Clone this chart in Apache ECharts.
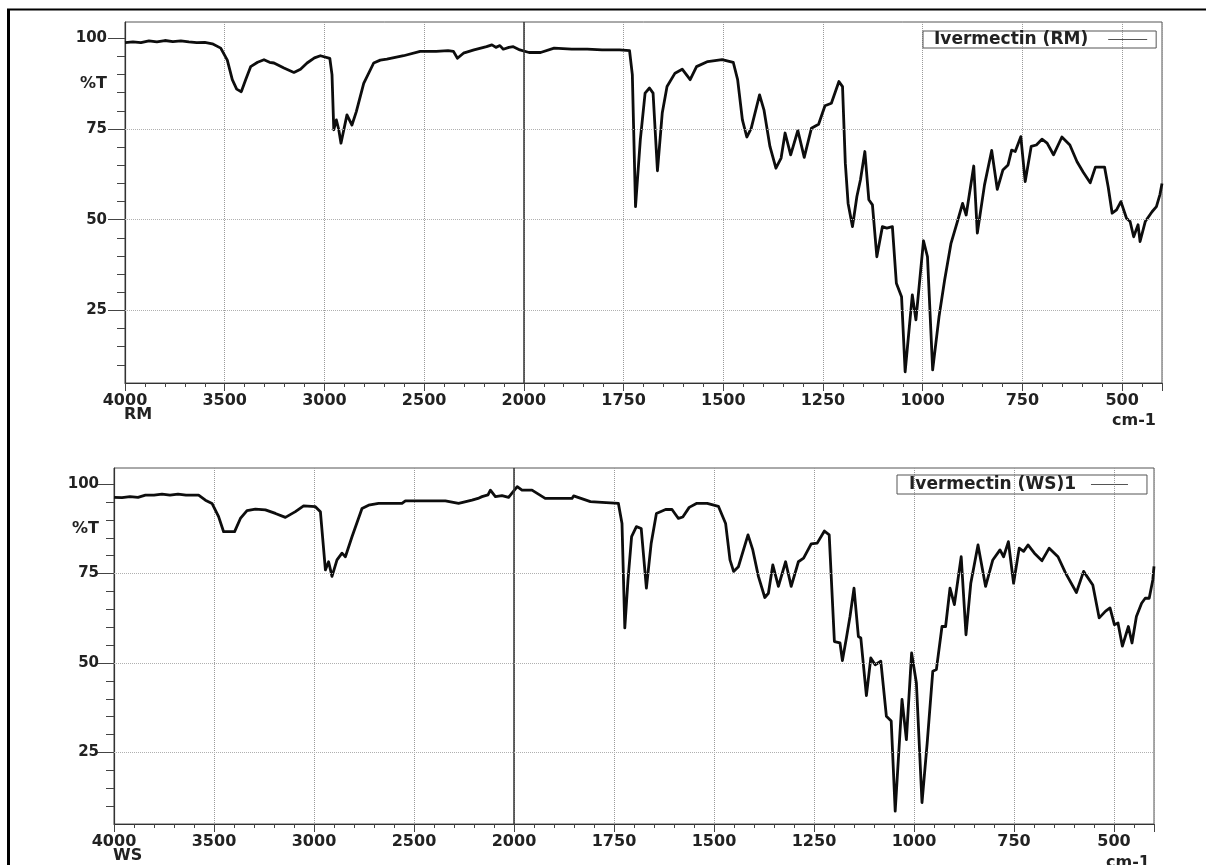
<!DOCTYPE html>
<html><head><meta charset="utf-8">
<script src="https://cdn.jsdelivr.net/npm/echarts@6/dist/echarts.min.js"></script>
<style>html,body{margin:0;padding:0;background:#fff}#c{width:1206px;height:865px}</style>
</head><body><div id="c"></div>
<script>
// ---- data (wavenumber cm-1, %T) ----
const rmWave = [4000,3960,3920,3880,3840,3800,3760,3720,3680,3640,3600,3562,3520,3487,3462,3440,3417,3395,3370,3335,3303,3275,3253,3203,3153,3120,3087,3050,3020,2973,2962,2953,2940,2928,2917,2887,2862,2840,2803,2753,2720,2687,2603,2520,2440,2380,2353,2333,2303,2250,2187,2160,2140,2120,2103,2075,2053,2020,1987,1958,1924,1880,1841,1804,1760,1735,1728,1720,1708,1696,1685,1676,1665,1653,1641,1621,1603,1583,1567,1539,1503,1475,1464,1452,1441,1430,1409,1398,1383,1368,1355,1345,1331,1313,1297,1279,1261,1245,1229,1210,1201,1194,1187,1176,1165,1156,1145,1135,1126,1115,1101,1090,1076,1066,1053,1044,1026,1017,998,988,975,959,945,929,913,900,891,872,863,845,827,813,799,786,777,768,754,743,728,715,701,688,672,651,631,613,597,580,567,544,535,525,514,503,489,480,471,460,455,442,425,414,405,400];
const rmT = [98.8,99.0,98.8,99.3,99.0,99.4,99.1,99.3,99.0,98.8,98.9,98.5,97.3,94.0,88.6,86.0,85.3,88.6,92.2,93.4,94.1,93.4,93.2,91.8,90.6,91.5,93.2,94.6,95.2,94.5,90.0,74.8,77.5,74.8,71.1,78.9,76.1,79.8,87.6,93.2,94.0,94.3,95.2,96.4,96.4,96.6,96.4,94.5,95.9,96.8,97.7,98.2,97.5,98.0,97.0,97.5,97.7,96.8,96.1,96.1,97.3,97.0,97.0,96.8,96.8,96.6,90.0,53.6,72.0,84.9,86.3,84.9,63.5,79.4,86.7,90.4,91.5,88.6,92.2,93.6,94.1,93.4,88.6,77.5,72.8,75.2,84.4,80.3,70.2,64.2,67.0,73.9,67.9,74.6,67.2,75.2,76.3,81.4,82.1,88.1,86.7,65.6,54.5,48.1,56.4,61.0,68.8,55.5,54.1,39.8,48.1,47.7,48.1,32.5,28.8,8.1,29.3,22.4,44.2,39.8,8.6,23.3,33.4,43.5,49.5,54.5,51.3,64.8,46.3,59.6,69.1,58.4,63.7,65.1,69.2,68.8,72.9,60.5,70.2,70.6,72.2,71.1,67.9,72.8,70.6,66.0,63.0,60.2,64.5,64.5,59.1,51.8,52.7,55.0,50.4,49.5,45.3,48.6,44.0,49.5,52.2,53.6,57.0,60.0];

const wsWave = [4000,3960,3920,3880,3843,3800,3760,3720,3680,3640,3577,3543,3510,3477,3452,3397,3368,3335,3293,3243,3193,3143,3093,3052,2993,2968,2943,2927,2910,2885,2860,2843,2810,2760,2727,2677,2560,2543,2400,2343,2277,2210,2180,2160,2130,2118,2093,2060,2027,1992,1980,1955,1922,1855,1851,1809,1780,1739,1730,1723,1715,1706,1694,1682,1669,1657,1644,1621,1605,1589,1578,1562,1544,1517,1489,1471,1460,1451,1439,1415,1403,1389,1373,1364,1353,1339,1321,1307,1289,1276,1257,1242,1224,1212,1199,1185,1179,1169,1160,1150,1139,1133,1119,1108,1097,1083,1069,1057,1047,1030,1019,1006,994,980,967,953,944,930,921,910,899,882,870,858,840,821,803,785,776,764,751,737,726,715,699,680,662,640,621,594,576,553,537,521,510,499,490,479,464,455,444,431,422,412,403,400];
const wsT = [96.3,96.2,96.5,96.3,96.9,96.9,97.2,96.9,97.2,96.9,96.9,95.5,94.6,90.9,86.7,86.7,90.4,92.6,93.0,92.8,91.8,90.7,92.3,93.9,93.7,92.3,76.0,78.3,74.2,78.8,80.7,79.7,85.3,93.2,94.1,94.6,94.6,95.3,95.3,95.3,94.6,95.5,96.0,96.5,97.0,98.3,96.5,96.8,96.3,99.3,98.3,98.3,96.0,96.0,96.7,95.1,94.9,94.6,89.0,59.8,73.2,85.3,88.1,87.6,70.9,83.5,91.8,92.9,92.9,90.4,90.8,93.5,94.6,94.6,93.8,89.0,78.8,75.6,76.9,85.8,81.6,74.2,68.3,69.5,77.4,71.4,78.3,71.4,78.3,79.3,83.3,83.5,86.9,85.8,56.0,55.6,50.7,57.0,63.0,70.9,57.4,57.0,40.9,51.4,49.5,50.5,35.1,33.8,8.6,39.8,28.6,52.8,44.4,11.0,27.7,47.7,48.2,60.2,60.2,70.9,66.3,79.7,57.9,72.3,83.0,71.4,78.8,81.6,79.7,83.9,72.3,82.1,81.2,83.0,80.7,78.6,82.1,79.7,75.1,69.7,75.6,71.8,62.6,64.5,65.4,60.7,61.2,54.7,60.2,55.6,63.0,66.7,68.1,68.1,73.2,77.0];

const xTickLabels = [4000,3500,3000,2500,2000,1750,1500,1250,1000,750,500];
const yTickLabels = [25,50,75,100];
const yMinorTicks = [10,15,20,30,35,40,45,55,60,65,70,80,85,90,95];
const yGridValues = [25,50,75];
const seriesNames = ['Ivermectin (RM)', 'Ivermectin (WS)1'];
const sampleTags = ['RM', 'WS'];

// Spectrometer axis: linear 4000-2000, doubled scale (x2) below 2000 cm-1
const BREAK = 2000;
function toU(w){ return w >= BREAK ? 4000 - w : BREAK + 2 * (BREAK - w); }
function fromU(u){ return u <= BREAK ? 4000 - u : BREAK - (u - BREAK) / 2; }

const FONT = 'DejaVu Sans';
const chart = echarts.init(document.getElementById('c'), null, {renderer:'canvas'});

const grids = [
  {left:125, top:22, width:1037, height:361},
  {left:114, top:468, width:1040, height:356}
];
const yMargins = [18, 15];

function makeX(gi){
  return {
    type:'value', gridIndex:gi, min:0, max:toU(400), interval:500,
    axisLine:{show:true, onZero:false, lineStyle:{color:'#333', width:1.2}},
    axisTick:{show:true, length:8, lineStyle:{color:'#444', width:1}},
    minorTick:{show:true, splitNumber:5, length:4, lineStyle:{color:'#444', width:1}},
    axisLabel:{margin:10, fontFamily:FONT, fontWeight:'bold', fontSize:16, color:'#222',
      showMinLabel:true, showMaxLabel:false,
      formatter:v => { const w = Math.round(fromU(v)); return xTickLabels.includes(w) ? String(w) : ''; }},
    splitLine:{show:true, lineStyle:{color:'#9a9a9a', type:'dotted', width:1}},
    minorSplitLine:{show:false}
  };
}
function makeYA(gi){
  return {
    type:'value', gridIndex:gi, min:5, max:104.5, interval:5, position:'left',
    axisLine:{show:true, onZero:false, lineStyle:{color:'#333', width:1.2}},
    axisTick:{show:true, length:8, customValues:yMinorTicks, lineStyle:{color:'#444', width:1}},
    axisLabel:{margin:yMargins[gi], fontFamily:FONT, fontWeight:'bold', fontSize:15, color:'#222',
      customValues:yTickLabels, formatter:v => String(v)},
    splitLine:{show:false}
  };
}
function makeYB(gi){
  return {
    type:'value', gridIndex:gi, min:5, max:104.5, position:'left',
    axisLine:{show:false},
    axisTick:{show:true, length:17, customValues:yTickLabels, lineStyle:{color:'#444', width:1}},
    axisLabel:{show:true, customValues:[87.5], margin:yMargins[gi], fontFamily:FONT, fontWeight:'bold', fontSize:16, color:'#222',
      formatter:() => '%T'},
    splitLine:{show:false}
  };
}

function makeSeries(i, waves, vals){
  return {
    type:'line', name:seriesNames[i], xAxisIndex:i, yAxisIndex:i*2,
    data:waves.map((w, k) => [toU(w), vals[k]]),
    symbol:'none', showSymbol:false, smooth:false, animation:false,
    lineStyle:{color:'#0d0d0d', width:2.8, join:'round'}, itemStyle:{color:'#0d0d0d'},
    markLine:{silent:true, symbol:'none', label:{show:false}, animation:false,
      data:[{xAxis:toU(BREAK), lineStyle:{type:'solid', color:'#333', width:1.5}}]
        .concat(yGridValues.map(v => ({yAxis:v, lineStyle:{type:'dotted', color:'#b0b0b0', width:1}})))}
  };
}

function makeLegend(i, left, top, padding, textPad, itemWidth){
  return {
    data:[seriesNames[i]], left, top, orient:'horizontal', align:'right',
    icon:'rect', itemWidth, itemHeight:1.2, itemStyle:{color:'#555', borderWidth:0},
    borderColor:'#555', borderWidth:1, padding,
    textStyle:{fontFamily:FONT, fontWeight:'bold', fontSize:17, color:'#222', lineHeight:16, padding:[0, textPad, 0, 0]},
    selectedMode:false
  };
}

const labelFont = 'bold 16px "DejaVu Sans"';
chart.setOption({
  backgroundColor:'#ffffff',
  animation:false,
  grid:grids.map(g => Object.assign({show:true, borderColor:'#555', borderWidth:1, backgroundColor:'transparent', containLabel:false}, g)),
  xAxis:[makeX(0), makeX(1)],
  yAxis:[makeYA(0), makeYB(0), makeYA(1), makeYB(1)],
  legend:[makeLegend(0, 923, 31, [0, 9, 0, 11], 15, 39), makeLegend(1, 897, 475, [1, 19, 1, 12], 10, 37)],
  series:[makeSeries(0, rmWave, rmT), makeSeries(1, wsWave, wsT)],
  graphic:[
    {type:'line', shape:{x1:7, y1:9.5, x2:1206, y2:9.5}, style:{stroke:'#000', lineWidth:2}},
    {type:'line', shape:{x1:8.5, y1:9, x2:8.5, y2:865}, style:{stroke:'#000', lineWidth:3}},
    {type:'text', x:124, y:415, style:{text:sampleTags[0], font:labelFont, fill:'#222', textAlign:'left', textVerticalAlign:'middle'}},
    {type:'text', x:1156, y:421, style:{text:'cm-1', font:labelFont, fill:'#222', textAlign:'right', textVerticalAlign:'middle'}},
    {type:'text', x:113, y:856, style:{text:sampleTags[1], font:labelFont, fill:'#222', textAlign:'left', textVerticalAlign:'middle'}},
    {type:'text', x:1150, y:863, style:{text:'cm-1', font:labelFont, fill:'#222', textAlign:'right', textVerticalAlign:'middle'}}
  ]
});
</script></body></html>
